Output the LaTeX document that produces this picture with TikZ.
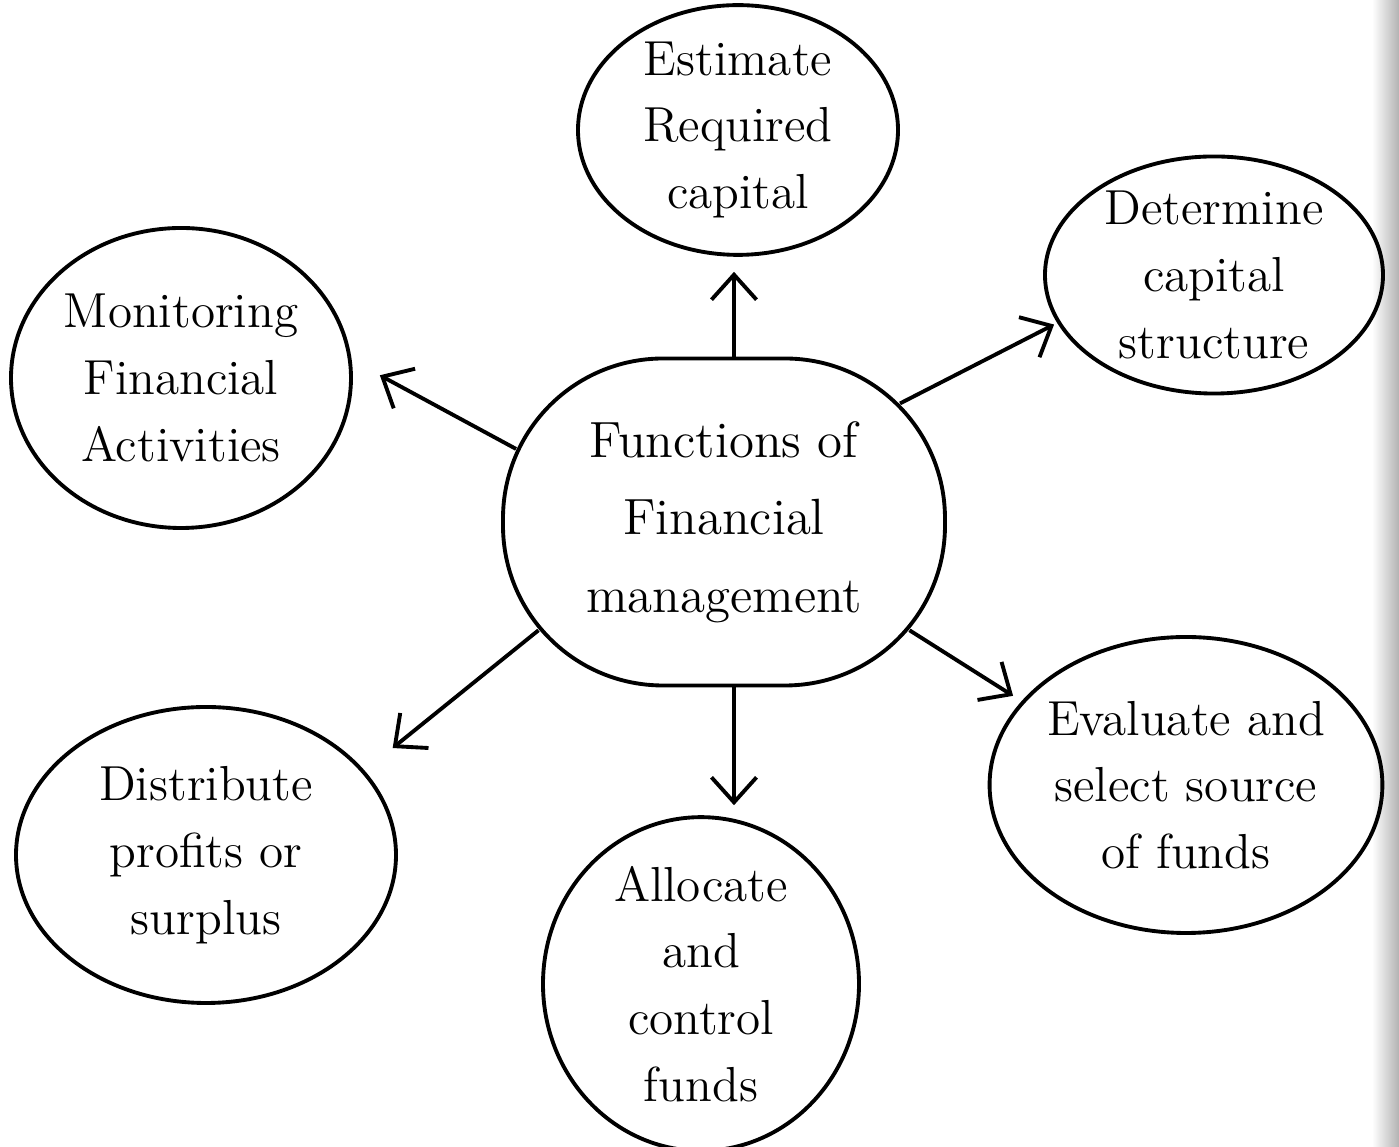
\documentclass[tikz,border=0pt]{standalone}
\usepackage{amsmath}
\usepackage{tikz}
\usepackage{xcolor}
\usetikzlibrary{shapes, arrows.meta, calc}

\begin{document}
\begin{tikzpicture}[line width=1.1pt,
        bubble/.style={ellipse, draw, inner sep=0pt, align=center, font=\fontsize{14}{19}\selectfont},
        blob/.style={rectangle, rounded corners=1.6cm, draw, inner sep=0pt, align=center, font=\fontsize{14.5}{22}\selectfont},
        >={Straight Barb[length=2.5mm, width=4.5mm]}]
        \useasboundingbox (0, 0) rectangle (13.99, -11.47);
        \shade[left color=white, right color=black!30] (13.72, 0) rectangle (13.99, -11.47);

        \node[blob, minimum width=4.42cm, minimum height=3.27cm] at (7.24, -5.22) (fof) {Functions of\\Financial\\management};
        \node[bubble, minimum width=3.2cm, minimum height=2.3cm] at (7.38, -1.30) (est) {Estimate\\Required\\capital};
        \node[bubble, minimum width=3.38cm, minimum height=2.3cm] at (12.14, -2.75) (det) {Determine\\capital\\structure};
        \node[bubble, minimum width=3.4cm, minimum height=3.0cm] at (1.81, -3.78) (mon) {Monitoring\\Financial\\Activities};
        \node[bubble, minimum width=3.86cm, minimum height=2.96cm] at (11.86, -7.85) (eva) {Evaluate and\\select source\\of funds};
        \node[bubble, minimum width=3.8cm, minimum height=2.96cm] at (2.06, -8.55) (dis) {Distribute\\profits or\\surplus};
        \node[bubble, minimum width=3.16cm, minimum height=3.12cm] at (7.01, -9.84) (all) {Allocate\\and\\control\\funds};

        % points on the round corners of the middle box
        \coordinate (fofne) at ($(fof.north east)+(-1.6,-1.6)+(45:1.6)$);
        \coordinate (fofnw) at ($(fof.north west)+(1.6,-1.6)+(155:1.6)$);
        \coordinate (fofsw) at ($(fof.south west)+(1.6,1.6)+(220:1.6)$);
        \coordinate (fofse) at ($(fof.south east)+(-1.6,1.6)+(320:1.6)$);

        \draw[->, shorten >=1.5mm] ([xshift=1mm]fof.north) to ([xshift=1mm]fof.north |- est.south);
        \draw[->, shorten >=1pt] (fofne) to (det.197);
        \draw[->, shorten >=3.2mm] (fofnw) to (mon.6);
        \draw[->, shorten >=1mm] (fofse) to (eva.153);
        \draw[->, shorten >=3.6mm] (fofsw) to (dis.28);
        \draw[->, shorten >=1mm] ([xshift=1mm]fof.south) to ([xshift=1mm]fof.south |- all.north);
    \end{tikzpicture}
\end{document}
